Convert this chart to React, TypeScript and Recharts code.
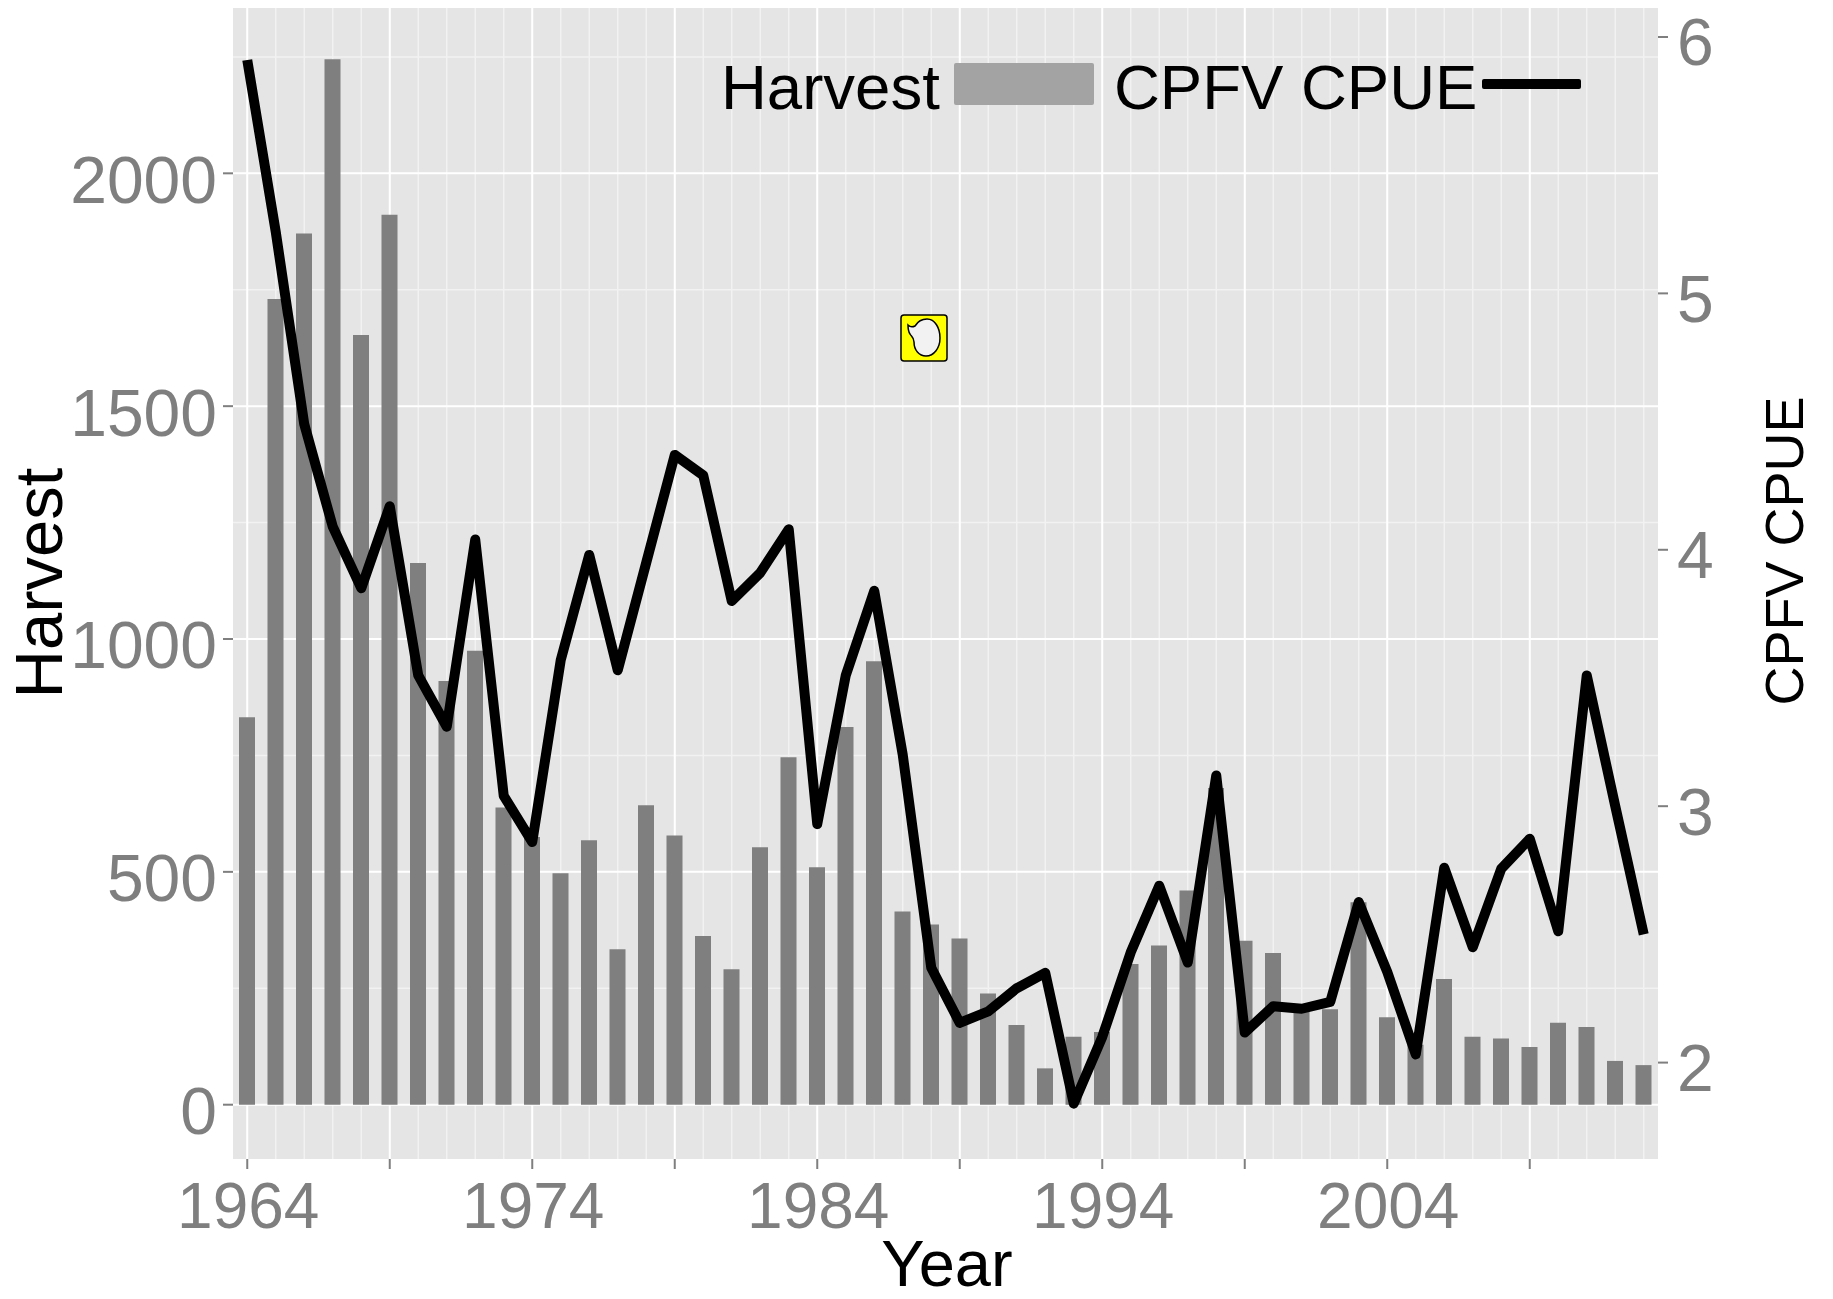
import {
  ComposedChart,
  Bar,
  Line,
  XAxis,
  YAxis,
  CartesianGrid,
  Legend,
} from 'recharts'

const FONT = '"Liberation Sans", Arial, sans-serif'
const TICK_GREY = '#7F7F7F'

const years = [
  1964, 1965, 1966, 1967, 1968, 1969, 1970, 1971, 1972, 1973,
  1974, 1975, 1976, 1977, 1978, 1979, 1980, 1981, 1982, 1983,
  1984, 1985, 1986, 1987, 1988, 1989, 1990, 1991, 1992, 1993,
  1994, 1995, 1996, 1997, 1998, 1999, 2000, 2001, 2002, 2003,
  2004, 2005, 2006, 2007, 2008, 2009, 2010, 2011, 2012, 2013,
]
const harvest = [
  832, 1730, 1871, 2245, 1653, 1911, 1163, 910, 975, 638,
  575, 497, 568, 334, 643, 578, 362, 291, 553, 746,
  510, 811, 952, 415, 387, 357, 239, 171, 78, 146,
  156, 302, 342, 460, 680, 352, 326, 205, 205, 435,
  188, 129, 270, 146, 142, 124, 176, 167, 94, 85,
]
const cpue = [
  5.91, 5.24, 4.49, 4.09, 3.85, 4.17, 3.51, 3.31, 4.04, 3.04,
  2.86, 3.57, 3.98, 3.53, 3.95, 4.37, 4.29, 3.8, 3.91, 4.08,
  2.93, 3.51, 3.84, 3.2, 2.37, 2.155, 2.2, 2.29, 2.35, 1.84,
  2.1, 2.43, 2.69, 2.39, 3.12, 2.117, 2.22, 2.21, 2.237, 2.626,
  2.354, 2.032, 2.76, 2.45, 2.756, 2.873, 2.512, 3.51, 3.0, 2.5,
]

const yearTicks = [1964, 1969, 1974, 1979, 1984, 1989, 1994, 1999, 2004, 2009]
const yearLabels = [1964, 1974, 1984, 1994, 2004]
const harvestTicks = [0, 500, 1000, 1500, 2000]
const harvestMinor = [250, 750, 1250, 1750, 2250]
const cpueTicks = [2, 3, 4, 5, 6]

const data = years.map((year, i) => ({ year, harvest: harvest[i], cpue: cpue[i] }))

const tickStyle = { fill: TICK_GREY, fontSize: 64, fontFamily: FONT }

function AxisTitle({ text, x, y, size, rotate }: { text: string; x: number; y: number; size: number; rotate?: boolean }) {
  return (
    <text
      x={x}
      y={y}
      fontSize={size}
      fontFamily={FONT}
      fill="#000"
      textAnchor="middle"
      transform={rotate ? `rotate(-90 ${x} ${y})` : undefined}
    >
      {text}
    </text>
  )
}

function ChartLegend() {
  const label = { position: 'absolute', top: -1, fontSize: 63.5, lineHeight: '74px', color: '#000', whiteSpace: 'nowrap' } as const
  return (
    <div style={{ position: 'relative', width: 870, height: 80, fontFamily: FONT }}>
      <span style={{ ...label, left: 0 }}>Harvest</span>
      <div style={{ position: 'absolute', left: 233, top: 12, width: 140, height: 42, background: '#A3A3A3', borderRadius: 2 }} />
      <span style={{ ...label, left: 393 }}>CPFV CPUE</span>
      <div style={{ position: 'absolute', left: 761, top: 28, width: 99, height: 10, background: '#000', borderRadius: 2 }} />
    </div>
  )
}

export default function App() {
  return (
    <div style={{ position: 'absolute', left: 0, top: 0, width: 1833, height: 1299 }}>
      <ComposedChart
        width={1833}
        height={1299}
        data={data}
        margin={{ top: 8, right: 0, bottom: 0, left: 0 }}
      >
        <CartesianGrid
          xAxisId="year"
          yAxisId="harvest"
          fill="#E5E5E5"
          stroke="#F2F2F2"
          strokeWidth={1.5}
          horizontalValues={harvestMinor}
          verticalValues={years}
        />
        <CartesianGrid
          xAxisId="year"
          yAxisId="harvest"
          stroke="#FFFFFF"
          strokeWidth={2}
          horizontalValues={harvestTicks}
          verticalValues={yearTicks}
        />
        <XAxis
          xAxisId="year"
          dataKey="year"
          height={140}
          ticks={yearTicks}
          interval={0}
          axisLine={false}
          tickSize={10}
          tickMargin={14}
          tickLine={{ stroke: TICK_GREY, strokeWidth: 2 }}
          tick={{ ...tickStyle, dx: 1 }}
          tickFormatter={(v: number) => (yearLabels.includes(v) ? String(v) : '')}
          label={{ content: () => <AxisTitle text="Year" x={947} y={1286} size={65} /> }}
        />
        <YAxis
          yAxisId="harvest"
          orientation="left"
          width={233}
          domain={[-116.6, 2355]}
          ticks={harvestTicks}
          interval={0}
          allowDataOverflow
          axisLine={false}
          tickSize={10}
          tickMargin={6}
          tickLine={{ stroke: TICK_GREY, strokeWidth: 2 }}
          tick={{ ...tickStyle, fontSize: 66, dy: 6 }}
          label={{ content: () => <AxisTitle text="Harvest" x={62} y={583} size={67} rotate /> }}
        />
        <YAxis
          yAxisId="cpue"
          orientation="right"
          width={175}
          domain={[1.624, 6.113]}
          ticks={cpueTicks}
          interval={0}
          allowDataOverflow
          axisLine={false}
          tickSize={10}
          tickMargin={9}
          tickLine={{ stroke: TICK_GREY, strokeWidth: 2 }}
          tick={{ ...tickStyle, fontSize: 66, dy: 5 }}
          label={{ content: () => <AxisTitle text="CPFV CPUE" x={1803} y={551} size={54} rotate /> }}
        />
        <Bar
          xAxisId="year"
          yAxisId="harvest"
          dataKey="harvest"
          fill={TICK_GREY}
          barSize={16}
          isAnimationActive={false}
        />
        <Line
          xAxisId="year"
          yAxisId="cpue"
          dataKey="cpue"
          type="linear"
          stroke="#000"
          strokeWidth={10}
          strokeLinejoin="round"
          dot={false}
          activeDot={false}
          isAnimationActive={false}
        />
        <Legend
          layout="horizontal"
          verticalAlign="middle"
          content={<ChartLegend />}
          wrapperStyle={{ position: 'absolute', left: 721, top: 51, width: 870, height: 80, bottom: 'auto' }}
        />
      </ComposedChart>
      {/* little yellow badge sitting on the panel */}
      <svg style={{ position: 'absolute', left: 900, top: 314 }} width={49} height={49} viewBox="0 0 49 49">
        <rect x={1} y={1} width={46} height={46} rx={3} fill="#FFFF00" stroke="#000" strokeWidth={1.5} />
        <path
          d="M8 11 C10 13 13 13 15 12 C18 7 23 5 27 5 C35 5 40 14 40 24 C40 34 34 42 26 42 C19 42 14 36 14 28 C14 23 11 22 10 20 C8 17 8 14 8 11 Z"
          fill="#F2F2F2"
          stroke="#000"
          strokeWidth={1.5}
        />
      </svg>
    </div>
  )
}
